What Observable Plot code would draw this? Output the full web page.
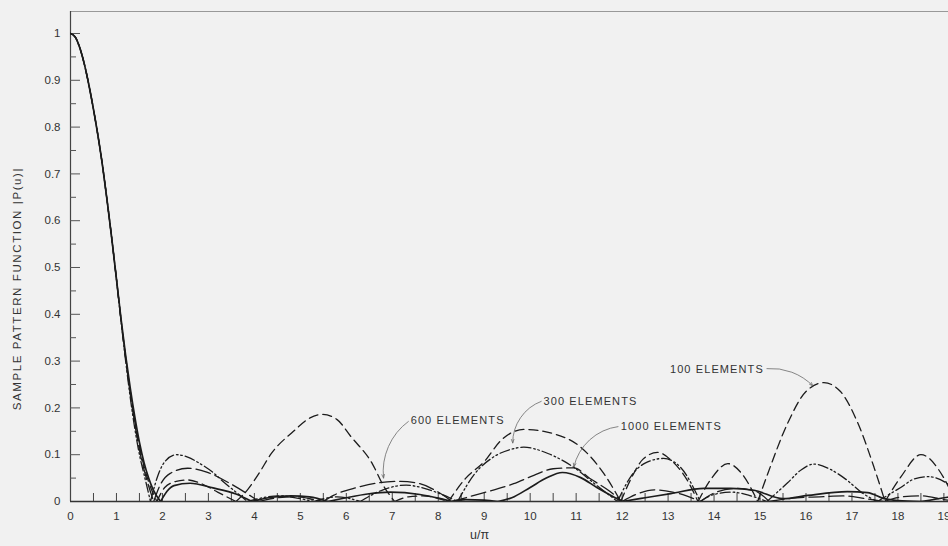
<!DOCTYPE html>
<html>
<head>
<meta charset="utf-8">
<script src="https://cdn.jsdelivr.net/npm/d3@7"></script>
<script src="https://cdn.jsdelivr.net/npm/@observablehq/plot@0.6"></script>
<style>
  html, body { margin: 0; padding: 0; background: #f1f1f1; }
  #chart svg { display: block; background: #f1f1f1; }
</style>
</head>
<body>
<div id="chart"></div>
<script>
// ---- Data (u/π, |P(u)|) ----
const mainLobe = [[0,1],[0.1,0.993],[0.2,0.97],[0.3,0.935],[0.4,0.89],[0.5,0.838],[0.6,0.78],[0.7,0.715],[0.8,0.64],[0.9,0.56],[1.0,0.475]];

const s100 = [[1.1,0.388],[1.2,0.308],[1.3,0.236],[1.4,0.172],[1.5,0.118],[1.6,0.075],[1.7,0.042],[1.88,0],
  [2.05,0.03],[2.3,0.043],[2.55,0.046],[2.85,0.038],[3.2,0.02],[3.6,0],
  [3.85,0.025],[4.1,0.06],[4.35,0.1],[4.85,0.15],[5.2,0.178],[5.48,0.186],[5.8,0.175],[6.09,0.14],[6.57,0.08],[6.8,0.035],[7.05,0],
  [7.35,0.01],[7.65,0.012],[7.95,0.008],[8.22,0],
  [8.6,0.05],[9.0,0.085],[9.36,0.13],[9.86,0.154],[10.5,0.145],[11.1,0.116],[11.6,0.06],[11.97,0],
  [12.2,0.05],[12.45,0.09],[12.77,0.105],[13.1,0.085],[13.42,0.045],[13.65,0],
  [13.95,0.05],[14.3,0.081],[14.6,0.06],[14.95,0],
  [15.17,0.06],[15.6,0.167],[16.0,0.235],[16.39,0.254],[16.75,0.235],[17.13,0.167],[17.48,0.073],[17.72,0],
  [18.06,0.052],[18.5,0.1],[19.0,0.05],[19.25,0]];

const s300 = [[1.1,0.385],[1.2,0.3],[1.3,0.222],[1.4,0.155],[1.5,0.1],[1.6,0.058],[1.74,0],
  [1.9,0.055],[2.05,0.085],[2.3,0.1],[2.55,0.095],[2.8,0.082],[3.1,0.062],[3.35,0.04],[3.6,0.02],[3.85,0],
  [4.3,0.01],[4.6,0.012],[5.0,0.006],[5.3,0],[5.8,0.01],[6.3,0],[6.8,0.025],[7.3,0.035],[7.8,0.025],[8.42,0],
  [8.8,0.06],[9.2,0.095],[9.6,0.112],[9.86,0.116],[10.4,0.102],[10.95,0.073],[11.4,0.038],[11.9,0],
  [12.2,0.055],[12.5,0.082],[12.9,0.092],[13.27,0.073],[13.7,0],
  [14.0,0.015],[14.4,0.02],[14.8,0.012],[15.15,0],
  [15.6,0.04],[15.9,0.068],[16.17,0.08],[16.5,0.07],[16.9,0.045],[17.2,0.02],[17.55,0],
  [18.06,0.03],[18.35,0.048],[18.65,0.053],[19.08,0.038],[19.3,0.02]];

const s600 = [[1.1,0.387],[1.2,0.305],[1.3,0.23],[1.4,0.165],[1.5,0.11],[1.6,0.068],[1.7,0.033],[1.81,0],
  [1.95,0.035],[2.17,0.06],[2.55,0.071],[2.98,0.062],[3.48,0.038],[3.9,0.013],[4.1,0],
  [4.5,0.008],[4.9,0.01],[5.3,0.004],[5.5,0],
  [5.72,0.013],[6.24,0.03],[6.7,0.04],[7.18,0.043],[7.6,0.038],[8.05,0.017],[8.3,0],
  [8.92,0.017],[9.64,0.038],[10.08,0.056],[10.5,0.07],[10.95,0.072],[11.3,0.049],[11.7,0.024],[12.0,0],
  [12.3,0.015],[12.7,0.025],[13.1,0.02],[13.4,0.012],[13.7,0],
  [14.0,0.018],[14.5,0.028],[14.9,0.022],[15.2,0],
  [15.8,0.008],[16.3,0.01],[16.8,0.012],[17.3,0.006],[17.7,0],
  [18.1,0.01],[18.5,0.012],[19.0,0.004],[19.3,0]];

const s1000 = [[1.1,0.39],[1.2,0.312],[1.3,0.242],[1.4,0.18],[1.5,0.126],[1.6,0.083],[1.7,0.05],[1.8,0.025],[1.96,0],
  [2.1,0.022],[2.25,0.034],[2.6,0.039],[3.1,0.029],[3.6,0.016],[3.95,0],
  [4.3,0.008],[4.8,0.012],[5.2,0.01],[5.6,0],
  [6.0,0.008],[6.46,0.016],[6.96,0.02],[7.6,0.015],[8.05,0.006],[8.3,0],
  [8.6,0.004],[9.0,0.003],[9.3,0],
  [9.6,0.008],[10.0,0.03],[10.35,0.05],[10.7,0.062],[11.1,0.051],[11.45,0.03],[12.0,0],
  [12.5,0.008],[13.06,0.017],[13.78,0.028],[14.36,0.028],[14.87,0.024],[15.5,0.006],[16.04,0.013],[16.9,0.021],[17.34,0.019],[17.7,0.006],[18.0,0.002],[18.5,0],
  [19.08,0.009],[19.3,0.013]];

const seriesNames = ["100 ELEMENTS", "300 ELEMENTS", "600 ELEMENTS", "1000 ELEMENTS"];
const seriesData = [s100, s300, s600, s1000];
const seriesDash = ["9,5", "10,3,1.6,2.6,1.6,3", "15,5", null];
const seriesWidth = [1.3, 1.3, 1.3, 1.7];

// annotation labels: text start (u, p) and arrow end (u, p)
const labelU = [13.04, 10.29, 7.40, 11.97];
const labelP = [0.282, 0.214, 0.173, 0.160];
const arrowStartU = [15.15, 10.24, 7.35, 11.91];
const arrowStartP = [0.284, 0.214, 0.171, 0.160];
const arrowEndU = [16.15, 9.62, 6.81, 10.95];
const arrowEndP = [0.247, 0.125, 0.050, 0.074];
const arrowBend = [25, -35, -30, -35];

const yAxisTitle = "SAMPLE PATTERN FUNCTION |P(u)|";
const xAxisTitle = "u/π";

const xTickValues = d3.range(0, 20, 1);
const xMinorTicks = d3.range(0.5, 19.01, 0.5);
const yTickValues = d3.range(0, 1.001, 0.1).map(v => +v.toFixed(1));
const yMinorTicks = d3.range(0.05, 1.0, 0.1).map(v => +v.toFixed(2));

// ---- Build rows (split each curve at its zeros so the nulls stay sharp) ----
const W = 948, H = 546, mL = 70, mR = 0, mT = 11, mB = 45;
const xMax = 19.1, yMax = 1.047;
const pxPerX = (W - mL - mR) / xMax;
const pxPerY = (H - mT - mB) / yMax;

const rows = [];
seriesData.forEach((pts, si) => {
  const all = mainLobe.concat(pts);
  let seg = 0;
  all.forEach(([u, p], i) => {
    rows.push({u, p, s: si, seg: `${si}-${seg}`});
    if (p === 0 && i > 0 && i < all.length - 1) {
      seg++;
      rows.push({u, p, s: si, seg: `${si}-${seg}`});
    }
  });
});

const labels = seriesNames.map((t, i) => ({t, u: labelU[i], p: labelP[i]}));

const font = "Liberation Sans, Arial, sans-serif";

const marks = [
  // frame lines
  Plot.ruleY([yMax], {stroke: "#999", strokeWidth: 1}),
  Plot.ruleX([0], {stroke: "#444", strokeWidth: 1.2}),
  Plot.ruleY([0], {stroke: "#333", strokeWidth: 1.3}),
  // inward ticks
  Plot.ruleX(xMinorTicks, {x: d => d, y1: 0, y2: 8 / pxPerY, stroke: "#444", strokeWidth: 1}),
  Plot.ruleY(yTickValues.slice(1), {y: d => d, x1: 0, x2: 10 / pxPerX, stroke: "#555", strokeWidth: 1}),
  Plot.ruleY(yMinorTicks, {y: d => d, x1: 0, x2: 6 / pxPerX, stroke: "#555", strokeWidth: 1}),
  // axes labels
  Plot.axisX({ticks: xTickValues, tickSize: 0, tickPadding: 10, fontSize: 11.5, fill: "#333", label: null, tickFormat: d => String(d)}),
  Plot.axisY({ticks: yTickValues, tickSize: 0, tickPadding: 10, fontSize: 11.5, fill: "#333", label: null, tickFormat: d => d === 0 ? "0" : d === 1 ? "1" : d.toFixed(1)}),
  Plot.text([xAxisTitle], {x: 8.9, frameAnchor: "bottom", dy: 37, fontSize: 12.5, fill: "#333", text: d => d, textAnchor: "middle"}),
  Plot.text([yAxisTitle], {y: 0.455, frameAnchor: "left", dx: -53, rotate: -90, textAnchor: "middle", fontSize: 11.5, fill: "#333", text: d => d}),
];

seriesData.forEach((_, si) => {
  marks.push(Plot.line(rows.filter(r => r.s === si), {
    x: "u", y: "p", z: "seg", curve: "monotone-x",
    stroke: "#1c1c1c", strokeWidth: seriesWidth[si],
    strokeDasharray: seriesDash[si] || undefined, clip: true
  }));
});

seriesNames.forEach((t, i) => {
  marks.push(Plot.arrow([i], {
    x1: () => arrowStartU[i], y1: () => arrowStartP[i],
    x2: () => arrowEndU[i], y2: () => arrowEndP[i],
    bend: arrowBend[i], stroke: "#6a6a6a", strokeWidth: 0.8, headLength: 7, headAngle: 40
  }));
});

marks.push(
  Plot.text(labels, {x: "u", y: "p", text: "t", textAnchor: "start", fontSize: 11, fill: "#333"})
);

const chart = Plot.plot({
  width: W, height: H,
  marginLeft: mL, marginRight: mR, marginTop: mT, marginBottom: mB,
  x: {domain: [0, xMax]},
  y: {domain: [0, yMax]},
  style: {fontFamily: font, background: "#f1f1f1", color: "#333"},
  marks
});
// letter spacing for the hand-lettered labels
d3.select(chart).selectAll("text").each(function() {
  const t = this.textContent;
  if (t === yAxisTitle) this.style.letterSpacing = "1.6px";
  else if (seriesNames.includes(t)) this.style.letterSpacing = "1.1px";
});
document.getElementById("chart").append(chart);
</script>
</body>
</html>
